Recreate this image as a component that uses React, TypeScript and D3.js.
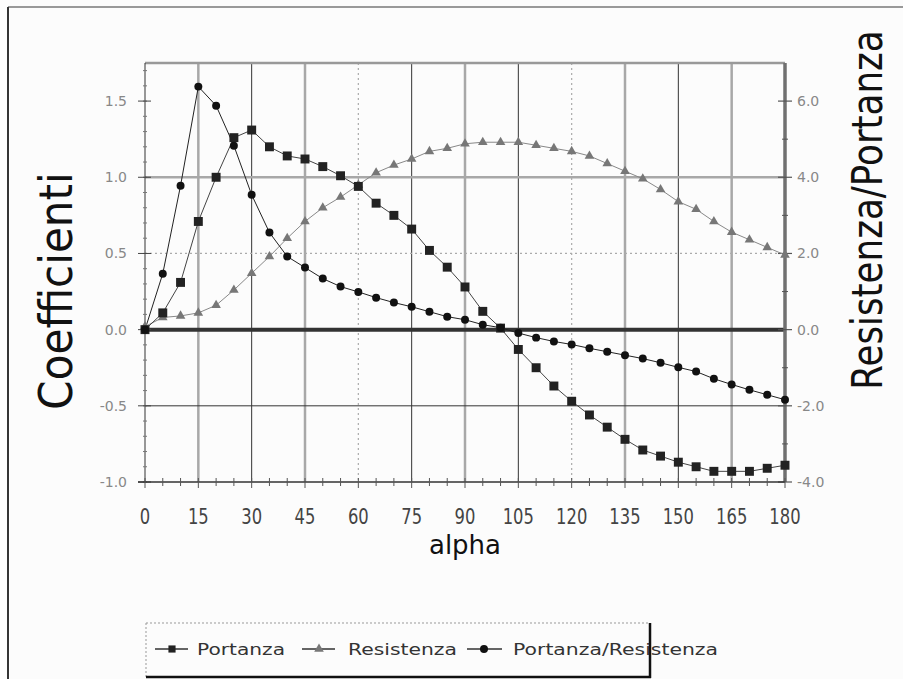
import * as d3 from "d3";
import React from "react";

// angle of attack, step 5 degrees
const alpha = d3.range(0, 181, 5);
const xTicks = d3.range(0, 181, 15);

// lift coefficient (left axis)
const portanza = [
  0.0, 0.11, 0.31, 0.71, 1.0, 1.26, 1.31, 1.2, 1.14, 1.12, 1.07, 1.01, 0.94,
  0.83, 0.75, 0.66, 0.52, 0.41, 0.28, 0.12, 0.01, -0.13, -0.25, -0.37, -0.47,
  -0.56, -0.64, -0.72, -0.79, -0.83, -0.87, -0.9, -0.93, -0.93, -0.93, -0.91, -0.89,
];

// drag coefficient (left axis)
const resistenza = [
  0.02, 0.08, 0.09, 0.11, 0.16, 0.26, 0.37, 0.48, 0.6, 0.71, 0.8, 0.87, 0.95,
  1.03, 1.08, 1.12, 1.17, 1.19, 1.22, 1.23, 1.23, 1.23, 1.21, 1.19, 1.17, 1.14,
  1.09, 1.04, 0.99, 0.92, 0.84, 0.79, 0.71, 0.64, 0.59, 0.54, 0.49,
];

// lift / drag (right axis)
const rapporto = [
  0, 1.47, 3.78, 6.38, 5.88, 4.83, 3.54, 2.55, 1.92, 1.63, 1.34, 1.13, 0.99,
  0.84, 0.71, 0.6, 0.47, 0.34, 0.26, 0.13, 0.05, -0.09, -0.21, -0.31, -0.39,
  -0.49, -0.58, -0.67, -0.76, -0.87, -0.99, -1.1, -1.29, -1.44, -1.58, -1.71, -1.84,
];

const leftTicks = [-1.0, -0.5, 0.0, 0.5, 1.0, 1.5];
const rightTicks = [-4.0, -2.0, 0.0, 2.0, 4.0, 6.0];

// grid style per vertical x tick (15..165)
const vGridStyle = ["gray", "dark", "gray", "dot", "dark", "gray", "dark", "dot", "gray", "dark", "gray"];

const W = 903;
const H = 679;
const plot = { left: 145, right: 785, top: 63, bottom: 482 };

const App = () => {
  const x = d3.scaleLinear().domain([0, 180]).range([plot.left, plot.right]);
  const yL = d3.scaleLinear().domain([-1, 1.75]).range([plot.bottom, plot.top]);
  const yR = d3.scaleLinear().domain([-4, 7]).range([plot.bottom, plot.top]);

  const lineL = d3.line<number>().x((_, i) => x(alpha[i])).y((d) => yL(d));
  const lineR = d3.line<number>().x((_, i) => x(alpha[i])).y((d) => yR(d));

  const sq = d3.symbol().type(d3.symbolSquare).size(80)();
  const tri = d3.symbol().type(d3.symbolTriangle).size(40)();
  const circ = d3.symbol().type(d3.symbolCircle).size(50)();

  const gridStroke = (s: string) =>
    s === "gray"
      ? { stroke: "#a8a8a8", strokeWidth: 2.5 }
      : s === "dark"
      ? { stroke: "#333", strokeWidth: 1 }
      : { stroke: "#aaa", strokeWidth: 1.2, strokeDasharray: "2,3" };

  const font = "DejaVu Sans, Verdana, sans-serif";

  return (
    <div style={{ position: "absolute", left: 0, top: 0 }}>
      <svg width={W} height={H} style={{ display: "block", background: "#fcfcfc" }}>
        {/* outer frame */}
        <line x1={8} x2={W} y1={7} y2={7} stroke="#999" strokeWidth={2} />
        <line x1={8} x2={8} y1={7} y2={H} stroke="#333" strokeWidth={2} />

        {/* vertical grid */}
        {xTicks.slice(1, -1).map((t, i) => (
          <line key={"vg" + t} x1={x(t)} x2={x(t)} y1={plot.top} y2={plot.bottom} {...gridStroke(vGridStyle[i])} />
        ))}

        {/* horizontal grid */}
        <line x1={plot.left} x2={plot.right} y1={yL(1.75)} y2={yL(1.75)} stroke="#999" strokeWidth={2.5} />
        <line x1={plot.left} x2={plot.right} y1={yL(1.0)} y2={yL(1.0)} {...gridStroke("gray")} />
        <line x1={plot.left} x2={plot.right} y1={yL(0.5)} y2={yL(0.5)} {...gridStroke("dot")} />
        <line x1={plot.left} x2={plot.right} y1={yL(-0.5)} y2={yL(-0.5)} {...gridStroke("dark")} />
        <line x1={plot.left} x2={plot.right} y1={yL(0)} y2={yL(0)} stroke="#333" strokeWidth={4} />

        {/* left axis */}
        <line x1={plot.left} x2={plot.left} y1={plot.top} y2={plot.bottom} stroke="#333" strokeWidth={1} />
        {d3.range(-1, 1.75, 0.1).map((t) => (
          <line key={"lm" + t} x1={plot.left - 2} x2={plot.left + 2} y1={yL(t)} y2={yL(t)} stroke="#777" strokeWidth={1} />
        ))}
        {leftTicks.map((t) => (
          <g key={"lt" + t}>
            <line x1={plot.left - 7} x2={plot.left + 6} y1={yL(t)} y2={yL(t)} stroke="#444" strokeWidth={1} />
            <text x={127} y={yL(t) + 5} textAnchor="end" fontSize={14} fill="#888" fontFamily={font}>
              {t.toFixed(1)}
            </text>
          </g>
        ))}

        {/* right axis */}
        <line x1={plot.right} x2={plot.right} y1={plot.top} y2={plot.bottom} stroke="#707070" strokeWidth={3.5} />
        {d3.range(-3, 7, 2).map((t) => (
          <line key={"rm" + t} x1={plot.right - 3} x2={plot.right + 3} y1={yR(t)} y2={yR(t)} stroke="#555" strokeWidth={1} />
        ))}
        {rightTicks.map((t) => (
          <g key={"rt" + t}>
            <line x1={plot.right - 7} x2={plot.right + 7} y1={yR(t)} y2={yR(t)} stroke="#555" strokeWidth={1.2} />
            <text x={797} y={yR(t) + 5} fontSize={14} fill="#888" fontFamily={font}>
              {t.toFixed(1)}
            </text>
          </g>
        ))}

        {/* bottom axis */}
        <line x1={plot.left - 7} x2={plot.right} y1={plot.bottom} y2={plot.bottom} stroke="#333" strokeWidth={1.5} />
        {alpha.map((t) => (
          <line key={"bt" + t} x1={x(t)} x2={x(t)} y1={plot.bottom - 4} y2={plot.bottom + (t % 15 === 0 ? 6 : 4)} stroke="#555" strokeWidth={1} />
        ))}
        {xTicks.map((t) => (
          <text
            key={"xl" + t}
            transform={`translate(${x(t)},524) scale(0.78,1)`}
            textAnchor="middle"
            fontSize={21}
            fill="#444"
            fontFamily={font}
          >
            {t}
          </text>
        ))}

        {/* series lines */}
        <path d={lineL(resistenza) || ""} fill="none" stroke="#888" strokeWidth={1} />
        <path d={lineL(portanza) || ""} fill="none" stroke="#444" strokeWidth={1} />
        <path d={lineR(rapporto) || ""} fill="none" stroke="#222" strokeWidth={1} />

        {/* markers */}
        {resistenza.map((d, i) => (
          <path key={"mr" + i} d={tri || ""} transform={`translate(${x(alpha[i])},${yL(d)})`} fill="#777" />
        ))}
        {portanza.map((d, i) => (
          <path key={"mp" + i} d={sq || ""} transform={`translate(${x(alpha[i])},${yL(d)})`} fill="#222" />
        ))}
        {rapporto.map((d, i) => (
          <path key={"mq" + i} d={circ || ""} transform={`translate(${x(alpha[i])},${yR(d)})`} fill="#111" />
        ))}

        {/* axis titles */}
        <text transform="translate(72,291) rotate(-90) scale(0.915,1)" textAnchor="middle" fontSize={46} fill="#111" fontFamily={font}>
          Coefficienti
        </text>
        <text transform="translate(882,210) rotate(-90) scale(0.85,1)" textAnchor="middle" fontSize={42} fill="#111" fontFamily={font}>
          Resistenza/Portanza
        </text>
        <text x={465} y={554} textAnchor="middle" fontSize={26} fill="#111" fontFamily={font}>
          alpha
        </text>

        {/* legend */}
        <g>
          <line x1={146} x2={650} y1={623} y2={623} stroke="#999" strokeWidth={1} strokeDasharray="2,2" />
          <line x1={146} x2={146} y1={623} y2={677} stroke="#999" strokeWidth={1} strokeDasharray="2,2" />
          <line x1={146} x2={651} y1={677} y2={677} stroke="#111" strokeWidth={2.5} />
          <line x1={650} x2={650} y1={623} y2={678} stroke="#111" strokeWidth={2.5} />

          <line x1={155} x2={188} y1={649} y2={649} stroke="#333" strokeWidth={1.5} />
          <path d={sq || ""} transform="translate(172,649) scale(0.8)" fill="#222" />
          <text x={197} y={655} fontSize={15} fill="#333" fontFamily={font} textLength={88} lengthAdjust="spacingAndGlyphs">
            Portanza
          </text>

          <line x1={302} x2={335} y1={649} y2={649} stroke="#333" strokeWidth={1.5} />
          <path d={tri || ""} transform="translate(319,649)" fill="#777" />
          <text x={348} y={655} fontSize={15} fill="#333" fontFamily={font} textLength={109} lengthAdjust="spacingAndGlyphs">
            Resistenza
          </text>

          <line x1={467} x2={502} y1={649} y2={649} stroke="#333" strokeWidth={1.5} />
          <path d={circ || ""} transform="translate(484,649)" fill="#111" />
          <text x={513} y={655} fontSize={15} fill="#333" fontFamily={font} textLength={205} lengthAdjust="spacingAndGlyphs">
            Portanza/Resistenza
          </text>
        </g>
      </svg>
    </div>
  );
};

export default App;
